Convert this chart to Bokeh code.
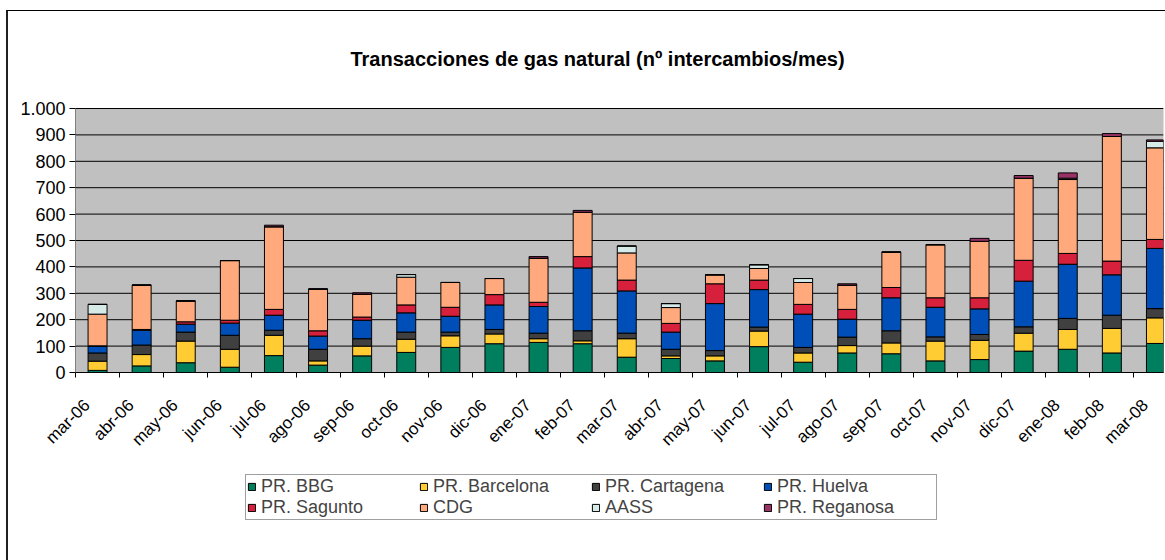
from bokeh.plotting import figure
from bokeh.models import (ColumnDataSource, Range1d, FixedTicker, Legend, BoxAnnotation, Label)
from bokeh.embed import file_html
from bokeh.resources import INLINE
import math

TITLE = "Transacciones de gas natural (nº intercambios/mes)"

months = ["mar-06", "abr-06", "may-06", "jun-06", "jul-06", "ago-06", "sep-06", "oct-06",
          "nov-06", "dic-06", "ene-07", "feb-07", "mar-07", "abr-07", "may-07", "jun-07",
          "jul-07", "ago-07", "sep-07", "oct-07", "nov-07", "dic-07", "ene-08", "feb-08", "mar-08"]

bbg       = [8, 25, 37, 20, 64, 28, 63, 76, 95, 109, 114, 109, 58, 53, 44, 98, 39, 74, 71, 44, 49, 81, 88, 74, 110]
barcelona = [35, 43, 82, 68, 77, 16, 37, 50, 44, 37, 14, 11, 70, 10, 19, 59, 35, 28, 41, 75, 73, 68, 75, 93, 97]
cartagena = [31, 36, 34, 53, 19, 44, 28, 27, 14, 17, 21, 38, 21, 25, 20, 15, 21, 32, 46, 16, 22, 24, 42, 50, 35]
huelva    = [25, 56, 30, 46, 57, 50, 70, 73, 60, 93, 101, 238, 160, 65, 178, 142, 126, 68, 125, 112, 97, 173, 205, 153, 228]
sagunto   = [2, 3, 9, 11, 22, 20, 12, 30, 34, 39, 16, 43, 41, 33, 75, 36, 37, 37, 39, 36, 42, 79, 41, 52, 34]
cdg       = [120, 168, 79, 226, 313, 158, 87, 105, 94, 61, 167, 168, 103, 60, 34, 44, 83, 92, 134, 201, 214, 311, 280, 472, 347]
aass      = [37, 0, 0, 0, 0, 0, 0, 10, 0, 0, 0, 0, 26, 15, 0, 14, 15, 0, 0, 0, 0, 0, 5, 0, 25]
reganosa  = [0, 0, 0, 0, 6, 0, 5, 0, 0, 0, 6, 7, 0, 0, 0, 0, 0, 5, 0, 0, 11, 10, 20, 11, 5]

series = ["PR. BBG", "PR. Barcelona", "PR. Cartagena", "PR. Huelva",
          "PR. Sagunto", "CDG", "AASS", "PR. Reganosa"]
colors = ["#007F5F", "#FFCC33", "#404040", "#004FB8",
          "#D6203C", "#FFA97C", "#D6EAE8", "#993366"]

y_ticks = [0, 100, 200, 300, 400, 500, 600, 700, 800, 900, 1000]
y_labels = ["0", "100", "200", "300", "400", "500", "600", "700", "800", "900", "1.000"]

xs = list(range(len(months)))
data = {"x": xs}
for name, vals in zip(series, [bbg, barcelona, cartagena, huelva, sagunto, cdg, aass, reganosa]):
    data[name] = vals
source = ColumnDataSource(data)

FONT = "Liberation Sans"

# frame covers the whole chart area; plot area = 264 px for 0..1000, 44.1 px per month
PX_Y = 0.264
PX_X = 44.1
FRAME_H = 543
FRAME_W = 1153
y_top = 1000 + 95 / PX_Y
y_bottom = y_top - FRAME_H / PX_Y
x_left = -0.5 - 65 / PX_X
x_right = x_left + FRAME_W / PX_X
x0 = -0.5

p = figure(frame_width=FRAME_W, frame_height=FRAME_H, output_backend="svg", toolbar_location=None,
           x_range=Range1d(x_left, x_right), y_range=Range1d(y_bottom, y_top),
           min_border_left=2, min_border_right=2, min_border_top=2, min_border_bottom=4)

p.styles = {"border-top": "1px solid #000000", "border-left": "2px solid #202020",
            "margin-left": "6px", "margin-top": "10px"}

p.border_fill_color = "#FFFFFF"
p.background_fill_color = "#FFFFFF"
p.outline_line_color = None

title = Label(x=x0 + 522 / PX_X, y=1000 + 50 / PX_Y, text=TITLE,
              text_align="center", text_baseline="middle", text_font=FONT,
              text_font_size="20px", text_font_style="bold", text_color="#000000")
p.add_layout(title)

plot_area = BoxAnnotation(bottom=0, top=1000, left=x0, fill_color="#C0C0C0", fill_alpha=1.0,
                          line_color="#808080", line_width=1, level="image")
p.add_layout(plot_area)

# horizontal gridlines
p.segment(x0=[x0] * len(y_ticks), y0=y_ticks, x1=[x_right] * len(y_ticks), y1=y_ticks,
          line_color="#000000", line_width=1, level="underlay")

renderers = p.vbar_stack(series, x="x", width=0.43, source=source, color=colors,
                         line_color="#000000", line_width=1)

# x axis pinned at y = 0
shift = 0.24
label_pos = [x - shift for x in xs]
p.xaxis.fixed_location = 0
p.xaxis.bounds = (x0, x_right)
p.xaxis.ticker = FixedTicker(ticks=label_pos, minor_ticks=[x - 0.5 for x in xs] + [len(xs) - 0.5])
p.xaxis.major_label_overrides = {lp: m for lp, m in zip(label_pos, months)}
p.xaxis.major_label_orientation = math.pi / 4
p.xaxis.major_tick_line_color = None
p.xaxis.minor_tick_out = 5
p.xaxis.minor_tick_in = 0
p.xaxis.minor_tick_line_color = "#000000"
p.xaxis.axis_line_color = "#000000"
p.xaxis.major_label_text_font = FONT
p.xaxis.major_label_text_font_size = "17px"
p.xaxis.major_label_text_color = "#000000"
p.xaxis.major_label_standoff = 24

# y axis pinned at the left edge of the plot area
p.yaxis.fixed_location = x0
p.yaxis.ticker = FixedTicker(ticks=y_ticks)
p.yaxis.bounds = (0, 1000)
p.yaxis.major_label_overrides = {t: l for t, l in zip(y_ticks, y_labels)}
p.yaxis.major_tick_out = 6
p.yaxis.major_tick_in = 0
p.yaxis.minor_tick_line_color = None
p.yaxis.axis_line_color = "#808080"
p.yaxis.major_tick_line_color = "#000000"
p.yaxis.major_label_text_font = FONT
p.yaxis.major_label_text_font_size = "18px"
p.yaxis.major_label_text_color = "#000000"
p.yaxis.major_label_standoff = 4

p.xgrid.grid_line_color = None
p.ygrid.grid_line_color = None

legend = Legend(items=[(name, [r]) for name, r in zip(series, renderers)],
                location=(235, 36), orientation="horizontal", ncols=4,
                label_text_font=FONT, label_text_font_size="18px",
                glyph_width=9, glyph_height=9, label_standoff=5, label_width=158,
                label_height=17, spacing=0, padding=1, margin=0,
                border_line_color="#404040", border_line_width=1,
                background_fill_color="#FFFFFF", background_fill_alpha=1.0)
p.add_layout(legend, "center")

open("out.html", "w").write(file_html(p, INLINE))
